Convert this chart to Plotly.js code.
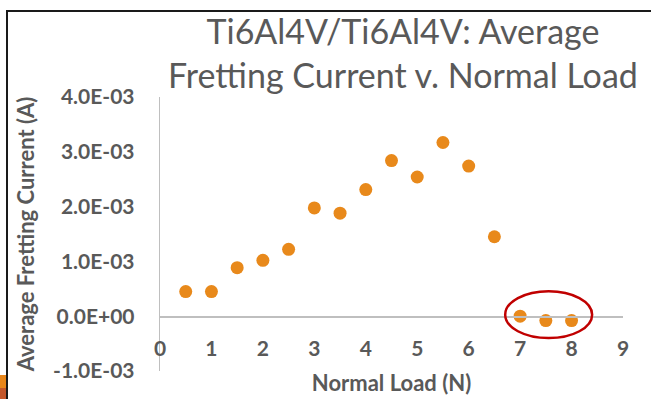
<!DOCTYPE html>
<html>
<head>
<meta charset="utf-8">
<script src="https://cdn.plot.ly/plotly-3.0.1.min.js"></script>
<style>
  html, body { margin: 0; padding: 0; background: #fff; }
  #wrap { position: relative; width: 651px; height: 399px; overflow: hidden; }
  #chart { position: absolute; left: 0; top: 0; width: 651px; height: 399px; }
  #frameL { position: absolute; left: 6px; top: 10px; width: 2px; height: 389px; background: #1a1a1a; pointer-events: none; }
  #frameT { position: absolute; left: 6px; top: 10px; width: 645px; height: 2px; background: #1a1a1a; pointer-events: none; }
  #tabA { position: absolute; left: 0; top: 375px; width: 6px; height: 13px; background: #E8861A; }
  #tabB { position: absolute; left: 0; top: 388px; width: 6px; height: 11px; background: #C4572B; }
</style>
</head>
<body>
<div id="wrap">
  <div id="chart"></div>
  <div id="frameL"></div>
  <div id="frameT"></div>
  <div id="tabA"></div>
  <div id="tabB"></div>
</div>
<script>
// ---- data ----
const normalLoad = [0.5, 1, 1.5, 2, 2.5, 3, 3.5, 4, 4.5, 5, 5.5, 6, 6.5, 7, 7.5, 8];
const avgCurrent = [0.45e-3, 0.45e-3, 0.885e-3, 1.02e-3, 1.22e-3, 1.975e-3, 1.88e-3, 2.31e-3,
                    2.84e-3, 2.54e-3, 3.17e-3, 2.74e-3, 1.45e-3, 0.0, -0.08e-3, -0.08e-3];
const xTickVals = [0, 1, 2, 3, 4, 5, 6, 7, 8, 9];
const yTickVals = [-1e-3, 0, 1e-3, 2e-3, 3e-3, 4e-3];
const yTickText = ['-1.0E-03', '0.0E+00', '1.0E-03', '2.0E-03', '3.0E-03', '4.0E-03'];

const gray = '#595959';
const font = 'Lato, "Open Sans", sans-serif';

const trace = {
  x: normalLoad,
  y: avgCurrent,
  type: 'scatter',
  mode: 'markers',
  marker: { color: '#E8891B', size: 13 },
  hoverinfo: 'x+y'
};

const yMin = -1e-3, yMax = 4e-3;

const layout = {
  width: 651,
  height: 399,
  margin: { l: 160, r: 28, t: 97, b: 28 },
  paper_bgcolor: '#ffffff',
  plot_bgcolor: '#ffffff',
  showlegend: false,
  font: { family: font, color: gray },
  title: {
    text: 'Ti6Al4V/Ti6Al4V: Average<br>Fretting Current v. Normal Load',
    font: { family: font, size: 34, color: gray },
    x: 0.619, xref: 'container', xanchor: 'center',
    y: 0.89, yref: 'container', yanchor: 'top'
  },
  xaxis: {
    range: [0, 9],
    tickvals: xTickVals,
    ticks: 'outside', ticklen: 13, tickcolor: 'rgba(0,0,0,0)',
    tickfont: { family: font, size: 21, color: gray, weight: 'bold' },
    showgrid: false, zeroline: false,
    showline: true, linecolor: '#BFBFBF', linewidth: 1.3,
    anchor: 'free', position: (0 - yMin) / (yMax - yMin),
    title: { text: 'Normal Load (N)', font: { family: font, size: 22, color: gray, weight: 'bold' }, standoff: 17 },
    fixedrange: true
  },
  yaxis: {
    range: [yMin, yMax],
    tickvals: yTickVals,
    ticktext: yTickText,
    ticks: 'outside', ticklen: 20, tickcolor: 'rgba(0,0,0,0)',
    tickfont: { family: font, size: 21, color: gray, weight: 'bold' },
    showgrid: false, zeroline: false,
    showline: true, linecolor: '#BFBFBF', linewidth: 1.3,
    title: { text: 'Average Fretting Current (A)', font: { family: font, size: 22, color: gray, weight: 'bold' }, standoff: 12 },
    fixedrange: true
  },
  shapes: [{
    type: 'circle', xref: 'x', yref: 'y',
    x0: 6.71, x1: 8.40, y0: -0.40e-3, y1: 0.457e-3,
    line: { color: '#C00000', width: 2.5 }
  }]
};

Plotly.newPlot('chart', [trace], layout, { displayModeBar: false, staticPlot: true });
</script>
</body>
</html>
